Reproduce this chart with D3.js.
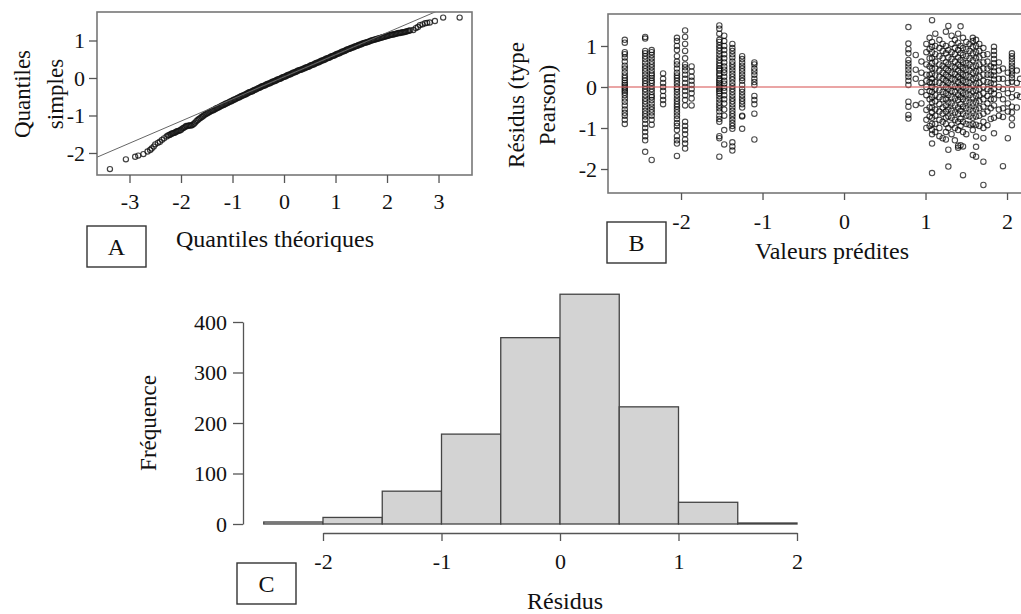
<!DOCTYPE html>
<html>
<head>
<meta charset="utf-8">
<script src="https://cdn.jsdelivr.net/npm/d3@7"></script>
<style>
  body { margin: 0; background: #fff; }
  svg { display: block; font-family: "Liberation Serif", "Times New Roman", serif; }
</style>
</head>
<body>
<svg id="fig" width="1021" height="614"></svg>
<script>
// ---------- A : normal Q-Q plot of the residuals ----------
const qqTheoretical = [
  -3.38,-3.07,-2.89,-2.83,-2.73,-2.65,-2.60,-2.57,-2.53,-2.50,-2.45,-2.41,-2.37,-2.33,-2.28,
  -2.25,-2.2,-2.15,-2.1,-2.05,-2,-1.95,-1.9,-1.85,-1.8,-1.75,-1.7,-1.65,-1.6,-1.55,-1.5,-1.45,-1.4,
  -1.35,-1.3,-1.25,-1.2,-1.15,-1.1,-1.05,-1,-0.95,-0.9,-0.85,-0.8,-0.75,-0.7,-0.65,-0.6,-0.55,-0.5,
  -0.45,-0.4,-0.35,-0.3,-0.25,-0.2,-0.15,-0.1,-0.05,0,0.05,0.1,0.15,0.2,0.25,0.3,0.35,0.4,0.45,0.5,
  0.55,0.6,0.65,0.7,0.75,0.8,0.85,0.9,0.95,1,1.05,1.1,1.15,1.2,1.25,1.3,1.35,1.4,1.45,1.5,1.55,1.6,
  1.65,1.7,1.75,1.8,1.85,1.9,1.95,2,2.05,2.1,2.15,2.2,2.25,2.3,2.35,2.4,2.45,
  2.51,2.56,2.60,2.64,2.69,2.74,2.78,2.83,2.93,3.09,3.41,
  -2.225,-2.175,-2.125,-2.075,-2.025,-1.975,-1.925,-1.875,-1.825,-1.775,-1.725,-1.675,-1.625,-1.575,
  -1.525,-1.475,-1.425,-1.375,-1.325,-1.275,-1.225,-1.175,-1.125,-1.075,-1.025,-0.975,-0.925,-0.875,
  -0.825,-0.775,-0.725,-0.675,-0.625,-0.575,-0.525,-0.475,-0.425,-0.375,-0.325,-0.275,-0.225,-0.175,
  -0.125,-0.075,-0.025,0.025,0.075,0.125,0.175,0.225,0.275,0.325,0.375,0.425,0.475,0.525,0.575,0.625,
  0.675,0.725,0.775,0.825,0.875,0.925,0.975,1.025,1.075,1.125,1.175,1.225,1.275,1.325,1.375,1.425,
  1.475,1.525,1.575,1.625,1.675,1.725,1.775,1.825,1.875,1.925,1.975,2.025,2.075,2.125,2.175,2.225,
  2.275,2.325,2.375,2.425
];
const qqSample = [
  -2.43,-2.17,-2.10,-2.07,-2.03,-1.96,-1.92,-1.88,-1.83,-1.77,-1.73,-1.70,-1.65,-1.61,-1.56,
  -1.53,-1.50,-1.47,-1.44,-1.41,-1.38,-1.33,-1.28,-1.27,-1.27,-1.22,-1.15,-1.09,-1.04,-0.99,-0.95,-0.91,-0.87,
  -0.84,-0.80,-0.77,-0.73,-0.70,-0.67,-0.63,-0.60,-0.57,-0.53,-0.50,-0.47,-0.44,-0.40,-0.37,-0.34,-0.31,-0.27,
  -0.24,-0.21,-0.18,-0.15,-0.12,-0.09,-0.06,-0.03,0.00,0.03,0.06,0.09,0.12,0.15,0.18,0.21,0.23,0.26,0.29,0.32,
  0.35,0.38,0.41,0.44,0.47,0.50,0.53,0.56,0.59,0.62,0.65,0.68,0.71,0.74,0.77,0.80,0.82,0.85,0.88,0.90,0.93,0.95,
  0.97,1.00,1.02,1.04,1.06,1.08,1.10,1.12,1.14,1.16,1.17,1.19,1.20,1.22,1.23,1.25,1.27,
  1.28,1.33,1.36,1.41,1.43,1.46,1.47,1.48,1.52,1.61,1.61,
  -1.52,-1.48,-1.46,-1.42,-1.40,-1.35,-1.31,-1.28,-1.26,-1.25,-1.19,-1.12,-1.07,-1.02,
  -0.97,-0.93,-0.89,-0.86,-0.82,-0.79,-0.75,-0.72,-0.68,-0.65,-0.62,-0.58,-0.55,-0.52,
  -0.48,-0.45,-0.42,-0.38,-0.36,-0.32,-0.29,-0.26,-0.22,-0.20,-0.16,-0.14,-0.10,-0.08,
  -0.04,-0.02,0.02,0.04,0.08,0.10,0.14,0.16,0.20,0.22,0.25,0.28,0.30,0.34,0.36,0.40,
  0.42,0.46,0.48,0.52,0.54,0.58,0.60,0.64,0.66,0.70,0.72,0.76,0.78,0.81,0.84,0.86,
  0.89,0.92,0.94,0.96,0.99,1.01,1.03,1.05,1.07,1.09,1.11,1.13,1.15,1.16,1.18,1.20,
  1.21,1.22,1.24,1.26
];
const qqLineIntercept = 0.03;
const qqLineSlope = 0.59;
const qqTicksX = [-3, -2, -1, 0, 1, 2, 3];
const qqTicksY = [-2, -1, 0, 1];

// ---------- B : Pearson residuals against fitted values ----------
const fittedValues = [
  -2.69, -2.44, -2.36, -2.22, -2.05, -1.95, -1.87, -1.53, -1.47, -1.37, -1.25, -1.10,
  0.79, 0.88, 0.95, 1.01, 1.05, 1.08, 1.12, 1.17, 1.21, 1.25, 1.28, 1.32, 1.36, 1.40, 1.43,
  1.46, 1.50, 1.54, 1.58, 1.62, 1.66, 1.71, 1.76, 1.80, 1.84, 1.90, 1.95, 2.01, 2.06, 2.12, 2.16
];
const pearsonResiduals = [
  [1.15,1.08,0.85,0.8,0.72,0.62,0.52,0.45,0.36,0.28,0.22,0.16,0.1,0.05,0.0,-0.04,-0.09,-0.14,-0.2,-0.28,-0.36,-0.45,-0.55,-0.63,-0.7,-0.8,-0.9],
  [1.22,1.18,0.88,0.82,0.75,0.68,0.6,0.52,0.45,0.38,0.3,0.22,0.15,0.08,0.02,-0.05,-0.12,-0.2,-0.28,-0.35,-0.42,-0.5,-0.58,-0.65,-0.72,-0.8,-0.9,-1.0,-1.1,-1.2,-1.3,-1.58],
  [0.9,0.85,0.78,0.7,0.62,0.55,0.48,0.4,0.33,0.28,0.22,0.15,0.1,0.02,-0.05,-0.12,-0.2,-0.25,-0.32,-0.4,-0.48,-0.55,-0.62,-0.7,-0.8,-0.92,-1.78],
  [0.33,0.2,0.1,0.0,-0.1,-0.22,-0.32,-0.42],
  [1.2,1.12,1.0,0.9,0.75,0.62,0.55,0.45,0.35,0.28,0.22,0.15,0.08,0.0,-0.05,-0.12,-0.2,-0.28,-0.35,-0.42,-0.48,-0.55,-0.62,-0.7,-0.78,-0.88,-0.95,-1.05,-1.2,-1.3,-1.38,-1.68],
  [1.38,1.22,1.05,0.88,0.7,0.55,0.48,0.4,0.3,0.2,0.1,0.0,-0.1,-0.2,-0.32,-0.45,-0.85,-0.95,-1.05,-1.15,-1.28,-1.38,-1.5],
  [0.5,0.38,0.25,0.15,0.05,-0.05,-0.15,-0.28,-0.45],
  [1.5,1.42,1.3,1.15,1.1,1.02,0.95,0.88,0.8,0.72,0.65,0.58,0.52,0.45,0.4,0.33,0.28,0.2,0.15,0.1,0.05,0.0,-0.05,-0.1,-0.15,-0.22,-0.3,-0.38,-0.45,-0.52,-0.6,-0.7,-0.78,-0.85,-1.2,-1.25,-1.7],
  [1.25,1.12,1.0,0.9,0.8,0.7,0.6,0.5,0.42,0.35,0.25,0.15,0.08,-0.02,-0.1,-0.2,-0.3,-0.4,-0.55,-0.7,-1.05,-1.4],
  [1.05,0.95,0.88,0.8,0.72,0.62,0.55,0.48,0.4,0.32,0.25,0.18,0.1,0.02,-0.05,-0.12,-0.2,-0.28,-0.35,-0.42,-0.5,-0.58,-0.65,-0.72,-0.8,-0.88,-0.95,-1.02,-1.35,-1.45,-1.55],
  [0.75,0.68,0.6,0.52,0.45,0.38,0.3,0.22,0.15,0.05,-0.05,-0.12,-0.2,-0.28,-0.35,-0.42,-0.5,-0.7,-0.72,-1.02],
  [0.6,0.55,0.45,0.38,0.3,0.2,0.12,0.05,-0.22,-0.32,-0.42,-0.65,-1.28],
  [1.46,1.06,0.92,0.82,0.66,0.58,0.5,0.42,0.33,0.25,0.15,0.05,-0.36,-0.48,-0.68,-0.77],
  [0.78,0.42,0.2,-0.44],
  [0.62,0.35,0.1,-0.12,-0.4],
  [1.05,0.85,0.55,0.3,0.15,0.0,-0.2,-0.56,-0.8,-1.0],
  [1.2,0.92,0.7,0.5,0.3,0.12,-0.1,-0.3,-0.5,-0.72,-0.95],
  [1.63,1.1,0.98,0.85,0.7,0.58,0.45,0.32,0.2,0.1,0.0,-0.12,-0.25,-0.38,-0.5,-0.62,-0.75,-0.9,-1.05,-1.15,-1.38,-2.1],
  [1.3,1.0,0.8,0.62,0.45,0.28,0.12,-0.05,-0.2,-0.35,-0.55,-0.7,-0.9,-1.1],
  [1.15,0.95,0.75,0.55,0.4,0.25,0.1,-0.08,-0.25,-0.42,-0.6,-0.8,-1.0,-1.2],
  [1.05,0.88,0.7,0.52,0.35,0.2,0.05,-0.12,-0.3,-0.5,-0.65,-0.85,-1.25],
  [1.35,1.0,0.82,0.6,0.45,0.3,0.15,0.0,-0.15,-0.3,-0.45,-0.6,-0.75,-0.9,-1.1,-1.28],
  [1.49,0.9,0.72,0.55,0.4,0.25,0.1,-0.05,-0.2,-0.38,-0.55,-0.72,-1.0,-1.53,-1.94],
  [1.25,1.05,0.85,0.68,0.5,0.35,0.2,0.05,-0.1,-0.25,-0.4,-0.58,-0.75,-0.92,-1.15],
  [1.15,0.95,0.8,0.62,0.48,0.32,0.18,0.02,-0.12,-0.28,-0.45,-0.62,-0.8,-1.0,-1.3],
  [1.3,1.08,0.9,0.72,0.55,0.4,0.25,0.12,-0.02,-0.18,-0.32,-0.5,-0.65,-0.85,-1.05,-1.43,-1.48],
  [1.48,1.0,0.82,0.65,0.5,0.35,0.2,0.05,-0.1,-0.25,-0.42,-0.58,-0.78,-0.95,-1.42],
  [1.2,0.95,0.78,0.6,0.45,0.3,0.15,0.0,-0.15,-0.3,-0.48,-0.65,-0.85,-1.1,-1.45,-2.15],
  [1.1,0.92,0.75,0.58,0.42,0.28,0.12,-0.02,-0.18,-0.35,-0.52,-0.7,-0.9,-1.15],
  [1.05,0.88,0.7,0.55,0.4,0.25,0.1,-0.05,-0.2,-0.38,-0.55,-0.72,-0.92],
  [1.2,1.12,0.98,0.82,0.65,0.5,0.35,0.2,0.05,-0.1,-0.25,-0.4,-0.58,-0.75,-0.9,-1.05,-1.66],
  [1.15,1.0,0.85,0.7,0.52,0.38,0.22,0.08,-0.08,-0.22,-0.38,-0.55,-0.72,-0.92,-1.21,-1.46,-1.7],
  [1.05,0.88,0.72,0.55,0.4,0.25,0.1,-0.05,-0.2,-0.35,-0.52,-0.7,-0.95],
  [0.95,0.78,0.6,0.45,0.3,0.15,0.0,-0.15,-0.3,-0.48,-0.65,-0.85,-1.0,-1.25,-1.82,-2.39],
  [0.8,0.62,0.45,0.3,0.12,-0.05,-0.22,-0.4,-0.6,-0.93],
  [0.5,0.3,0.1,-0.1,-0.3,-0.52,-0.78],
  [0.98,0.88,0.78,0.68,0.58,0.48,0.38,0.28,0.18,0.08,-0.05,-0.16,-0.3,-0.45,-0.75,-1.13],
  [0.6,0.4,0.2,0.0,-0.2,-0.55,-0.7],
  [0.45,0.2,-0.05,-0.3,-0.52,-0.73,-1.93],
  [0.35,0.1,-0.15,-0.4,-0.6,-1.25],
  [0.82,0.75,0.68,0.6,0.52,0.45,0.38,0.3,0.22,0.13,-0.05,-0.25,-0.48,-0.62,-0.77,-0.93],
  [0.4,0.1,-0.2,-0.5],
  [0.2,-0.24]
];
const residTicksX = [-2, -1, 0, 1, 2];
const residTicksY = [-2, -1, 0, 1];

// ---------- C : histogram of the residuals ----------
const histBinStarts = [-2.5, -2, -1.5, -1, -0.5, 0, 0.5, 1, 1.5];
const histBinWidth = 0.5;
const histCounts = [4, 13, 65, 178, 369, 455, 232, 43, 2];
const histTicksX = [-2, -1, 0, 1, 2];
const histTicksY = [0, 100, 200, 300, 400];

// ---------- drawing ----------
const svg = d3.select("#fig");
const TICK_FS = 22, TITLE_FS = 24, YTITLE_FS = 23;
const INK = "#111", FRAME = "#777";
const fmt = d => String(d);

function styleAxis(g, keepDomain) {
  if (!keepDomain) g.select(".domain").remove();
  else g.select(".domain").attr("stroke", "#555").attr("stroke-width", 1.3);
  g.selectAll(".tick line").attr("stroke", "#555").attr("stroke-width", 1.3);
  g.selectAll(".tick text").attr("fill", INK).attr("font-size", TICK_FS)
    .attr("font-family", "Liberation Serif, Times New Roman, serif");
}

function panelTag(x, y, w, h, letter) {
  svg.append("rect").attr("x", x).attr("y", y).attr("width", w).attr("height", h)
    .attr("fill", "#fff").attr("stroke", "#333").attr("stroke-width", 1.4);
  svg.append("text").attr("x", x + w / 2).attr("y", y + h / 2).attr("dy", "0.35em")
    .attr("text-anchor", "middle").attr("font-size", TITLE_FS).attr("fill", INK).text(letter);
}

// Panel A
{
  const L = 97, R = 472, T = 12, B = 175;
  const x = d3.scaleLinear().domain([-3.631, 3.650]).range([L, R]);
  const y = d3.scaleLinear().domain([-2.587, 1.76]).range([B, T]);
  svg.append("clipPath").attr("id", "clipA").append("rect")
    .attr("x", L).attr("y", T).attr("width", R - L).attr("height", B - T);
  const g = svg.append("g");
  g.append("g").attr("clip-path", "url(#clipA)")
    .selectAll("circle").data(d3.zip(qqTheoretical, qqSample)).join("circle")
    .attr("cx", d => x(d[0])).attr("cy", d => y(d[1])).attr("r", 2.6)
    .attr("fill", "none").attr("stroke", "#111").attr("stroke-opacity", 0.8).attr("stroke-width", 1.2);
  const xs = x.domain();
  g.append("line").attr("clip-path", "url(#clipA)")
    .attr("x1", x(xs[0])).attr("y1", y(qqLineIntercept + qqLineSlope * xs[0]))
    .attr("x2", x(xs[1])).attr("y2", y(qqLineIntercept + qqLineSlope * xs[1]))
    .attr("stroke", "#666").attr("stroke-width", 1);
  g.append("rect").attr("x", L).attr("y", T).attr("width", R - L).attr("height", B - T)
    .attr("fill", "none").attr("stroke", FRAME).attr("stroke-width", 1.6);
  g.append("g").attr("transform", `translate(0,${B})`)
    .call(d3.axisBottom(x).tickValues(qqTicksX).tickFormat(fmt).tickSize(8).tickPadding(10))
    .call(a => styleAxis(a, false));
  g.append("g").attr("transform", `translate(${L},0)`)
    .call(d3.axisLeft(y).tickValues(qqTicksY).tickFormat(fmt).tickSize(8).tickPadding(4))
    .call(a => styleAxis(a, false));
  g.append("text").attr("x", 275).attr("y", 247).attr("text-anchor", "middle")
    .attr("font-size", TITLE_FS).attr("fill", INK).text("Quantiles théoriques");
  g.append("text").attr("transform", "translate(30,94) rotate(-90)").attr("text-anchor", "middle")
    .attr("font-size", YTITLE_FS).attr("fill", INK).text("Quantiles");
  g.append("text").attr("transform", "translate(63,94) rotate(-90)").attr("text-anchor", "middle")
    .attr("font-size", YTITLE_FS).attr("fill", INK).text("simples");
  panelTag(87, 226, 59, 41, "A");
}

// Panel B
{
  const L = 608, R = 1060, T = 14, B = 193;
  const x = d3.scaleLinear().domain([-2.896, 2.650]).range([L, R]);
  const y = d3.scaleLinear().domain([-2.585, 1.78]).range([B, T]);
  svg.append("clipPath").attr("id", "clipB").append("rect")
    .attr("x", L).attr("y", T).attr("width", R - L).attr("height", B - T);
  const g = svg.append("g");
  const pts = fittedValues.flatMap((f, i) => pearsonResiduals[i].map(r => [f, r]));
  g.append("g").attr("clip-path", "url(#clipB)")
    .selectAll("circle").data(pts).join("circle")
    .attr("cx", d => x(d[0])).attr("cy", d => y(d[1])).attr("r", 2.7)
    .attr("fill", "none").attr("stroke", "#000").attr("stroke-opacity", 0.7).attr("stroke-width", 1.1);
  g.append("line").attr("x1", L).attr("x2", R).attr("y1", y(0)).attr("y2", y(0))
    .attr("stroke", "#d95f5f").attr("stroke-opacity", 0.75).attr("stroke-width", 1.5);
  g.append("rect").attr("x", L).attr("y", T).attr("width", R - L).attr("height", B - T)
    .attr("fill", "none").attr("stroke", FRAME).attr("stroke-width", 1.6);
  g.append("g").attr("transform", `translate(0,${B})`)
    .call(d3.axisBottom(x).tickValues(residTicksX).tickFormat(fmt).tickSize(7).tickPadding(13))
    .call(a => styleAxis(a, false));
  g.append("g").attr("transform", `translate(${L},0)`)
    .call(d3.axisLeft(y).tickValues(residTicksY).tickFormat(fmt).tickSize(7).tickPadding(4))
    .call(a => styleAxis(a, false));
  g.append("text").attr("x", 832).attr("y", 259).attr("text-anchor", "middle")
    .attr("font-size", TITLE_FS).attr("fill", INK).text("Valeurs prédites");
  g.append("text").attr("transform", "translate(524,105) rotate(-90)").attr("text-anchor", "middle")
    .attr("font-size", YTITLE_FS).attr("fill", INK).text("Résidus (type");
  g.append("text").attr("transform", "translate(555,105) rotate(-90)").attr("text-anchor", "middle")
    .attr("font-size", YTITLE_FS).attr("fill", INK).text("Pearson)");
  panelTag(607, 222, 59, 41, "B");
}

// Panel C
{
  const x = d3.scaleLinear().domain([-2, 2]).range([323, 797]);
  const y = d3.scaleLinear().domain([0, 400]).range([524, 322]);
  const g = svg.append("g");
  g.append("g").selectAll("rect").data(d3.zip(histBinStarts, histCounts)).join("rect")
    .attr("x", d => x(d[0])).attr("width", d => x(d[0] + histBinWidth) - x(d[0]))
    .attr("y", d => y(d[1])).attr("height", d => y(0) - y(d[1]))
    .attr("fill", "#d3d3d3").attr("stroke", "#444").attr("stroke-width", 1.3);
  g.append("g").attr("transform", "translate(0,533)")
    .call(d3.axisBottom(x).tickValues(histTicksX).tickFormat(fmt).tickSize(8).tickSizeOuter(0).tickPadding(12))
    .call(a => styleAxis(a, true));
  g.append("g").attr("transform", "translate(243,0)")
    .call(d3.axisLeft(y).tickValues(histTicksY).tickFormat(fmt).tickSize(10).tickSizeOuter(0).tickPadding(6))
    .call(a => styleAxis(a, true));
  g.append("text").attr("x", 565).attr("y", 609).attr("text-anchor", "middle")
    .attr("font-size", TITLE_FS).attr("fill", INK).text("Résidus");
  g.append("text").attr("transform", "translate(156,423) rotate(-90)").attr("text-anchor", "middle")
    .attr("font-size", YTITLE_FS).attr("fill", INK).text("Fréquence");
  panelTag(237, 563, 59, 41, "C");
}
</script>
</body>
</html>
